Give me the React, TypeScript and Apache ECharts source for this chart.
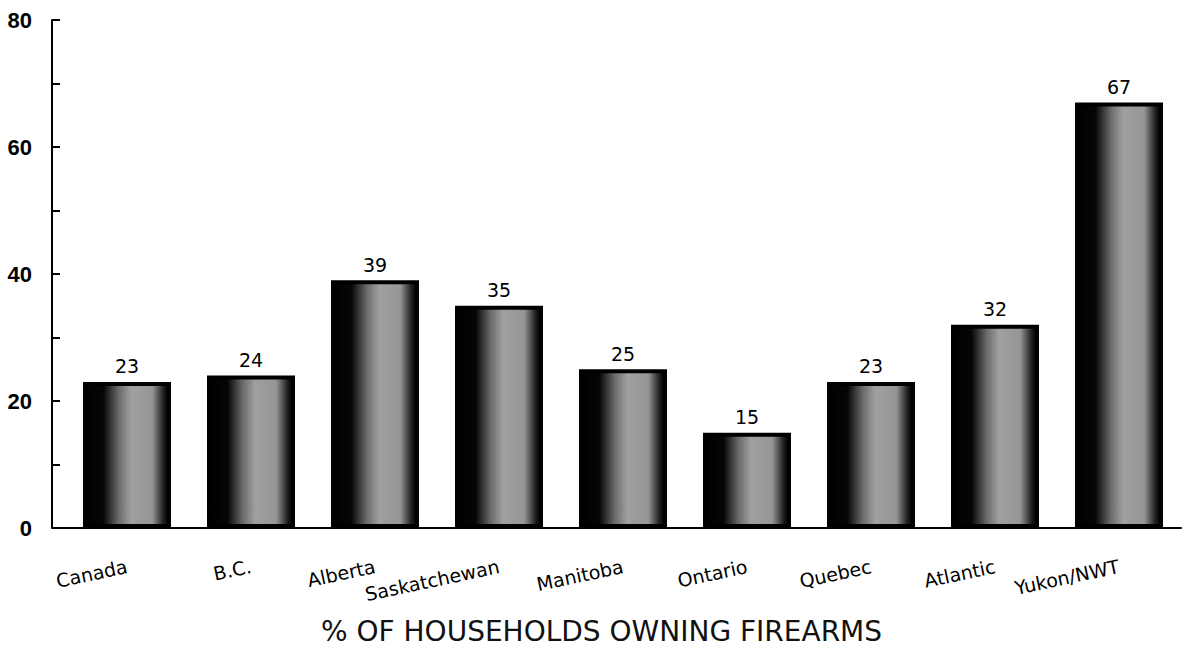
import React, { useEffect, useRef } from "react";
import * as echarts from "echarts";

const categories = ["Canada", "B.C.", "Alberta", "Saskatchewan", "Manitoba", "Ontario", "Quebec", "Atlantic", "Yukon/NWT"];
const values = [23, 24, 39, 35, 25, 15, 23, 32, 67];
const yTicks = [0, 20, 40, 60, 80];
const chartTitle = "% OF HOUSEHOLDS OWNING FIREARMS";

export default function App() {
  const ref = useRef<HTMLDivElement>(null);
  useEffect(() => {
    document.body.style.margin = "0";
    const chart = echarts.init(ref.current!, null, { renderer: "svg" });
    const barFill = {
      type: "linear",
      x: 0, y: 0, x2: 1, y2: 0,
      colorStops: [
        { offset: 0, color: "#000" },
        { offset: 0.22, color: "#060606" },
        { offset: 0.4, color: "#6a6a6a" },
        { offset: 0.55, color: "#a0a0a0" },
        { offset: 0.8, color: "#969696" },
        { offset: 0.94, color: "#1a1a1a" },
        { offset: 1, color: "#000" },
      ],
    };
    chart.setOption({
      animation: false,
      backgroundColor: "#fff",
      grid: { left: 65, right: 3, top: 20, bottom: 125, containLabel: false },
      title: {
        text: chartTitle,
        left: 316,
        top: 612,
        textStyle: { fontFamily: "DejaVu Sans", fontWeight: "normal", fontSize: 28, color: "#111" },
      },
      xAxis: {
        type: "category",
        data: categories,
        axisTick: { show: false },
        axisLine: { lineStyle: { color: "#000", width: 2 } },
        axisLabel: {
          rotate: 12,
          margin: 38,
          fontFamily: "DejaVu Sans",
          fontSize: 19,
          color: "#000",
          interval: 0,
        },
      },
      yAxis: {
        type: "value",
        min: yTicks[0],
        max: yTicks[yTicks.length - 1],
        interval: 20,
        offset: 13,
        axisLine: { show: true, lineStyle: { color: "#000", width: 2 } },
        axisTick: { show: true, inside: true, length: 8, lineStyle: { color: "#000", width: 2 } },
        minorTick: { show: true, splitNumber: 2, length: 8, lineStyle: { color: "#000", width: 2 } },
        splitLine: { show: false },
        axisLabel: {
          margin: 20,
          fontFamily: "Liberation Sans",
          fontWeight: "bold",
          fontSize: 22,
          color: "#000",
        },
      },
      graphic: [
        { type: "line", shape: { x1: 52, y1: 528, x2: 66, y2: 528 }, style: { stroke: "#000", lineWidth: 2 } },
      ],
      series: [
        {
          type: "bar",
          data: values,
          barWidth: 88,
          itemStyle: { color: barFill, borderColor: "#000", borderWidth: 4 },
          label: {
            show: true,
            position: "top",
            distance: 6,
            fontFamily: "DejaVu Sans",
            fontSize: 19,
            color: "#000",
          },
        },
      ],
    });
    return () => chart.dispose();
  }, []);
  return <div ref={ref} style={{ width: 1184, height: 653 }} />;
}
